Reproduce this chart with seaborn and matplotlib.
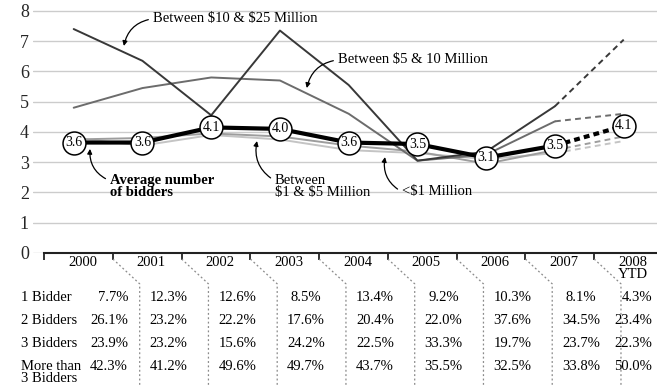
import matplotlib
matplotlib.use("Agg")
import matplotlib.pyplot as plt
import seaborn as sns
import numpy as np

# ---------------- data ----------------
years = ["2000", "2001", "2002", "2003", "2004", "2005", "2006", "2007", "2008\nYTD"]
avg_bidders = [3.65, 3.65, 4.15, 4.1, 3.65, 3.6, 3.15, 3.55, 4.2]
avg_labels = ["3.6", "3.6", "4.1", "4.0", "3.6", "3.5", "3.1", "3.5", "4.1"]
size_10_25 = [7.4, 6.35, 4.55, 7.35, 5.55, 3.05, 3.35, 4.85, 7.05]
size_5_10 = [4.8, 5.45, 5.8, 5.7, 4.6, 3.05, 3.25, 4.35, 4.6]
size_1_5 = [3.75, 3.8, 3.95, 3.85, 3.55, 3.35, 2.95, 3.4, 3.85]
size_lt1 = [3.8, 3.55, 3.9, 3.75, 3.4, 3.3, 3.1, 3.3, 3.7]

row_labels = ["1 Bidder", "2 Bidders", "3 Bidders", "More than\n3 Bidders"]
pct_1 = ["7.7%", "12.3%", "12.6%", "8.5%", "13.4%", "9.2%", "10.3%", "8.1%", "4.3%"]
pct_2 = ["26.1%", "23.2%", "22.2%", "17.6%", "20.4%", "22.0%", "37.6%", "34.5%", "23.4%"]
pct_3 = ["23.9%", "23.2%", "15.6%", "24.2%", "22.5%", "33.3%", "19.7%", "23.7%", "22.3%"]
pct_more = ["42.3%", "41.2%", "49.6%", "49.7%", "43.7%", "35.5%", "32.5%", "33.8%", "50.0%"]
y_ticks = [0, 1, 2, 3, 4, 5, 6, 7, 8]

# ---------------- style ----------------
sns.set_theme(style="white")
plt.rcParams["font.family"] = ["Liberation Serif", "DejaVu Serif"]
plt.rcParams["text.color"] = "black"
plt.rcParams["text.parse_math"] = False

fig = plt.figure(figsize=(6.57, 3.87), dpi=100)
ax = fig.add_axes([0.0502, 0.3463, 0.9498, 0.6537])

x = np.arange(len(years))
n_solid = len(years) - 1  # last point (YTD) is dashed

series = [
    (size_lt1, "#c4c4c4", 1.4),
    (size_1_5, "#9d9d9d", 1.4),
    (size_5_10, "#6c6c6c", 1.4),
    (size_10_25, "#383838", 1.4),
]
for vals, col, lw in series:
    sns.lineplot(x=x[:n_solid], y=vals[:n_solid], ax=ax, color=col, lw=lw, zorder=3)
    sns.lineplot(x=x[n_solid - 1:], y=vals[n_solid - 1:], ax=ax, color=col, lw=lw,
                 linestyle=(0, (3, 2.2)), zorder=3)

sns.lineplot(x=x[:n_solid], y=avg_bidders[:n_solid], ax=ax, color="black", lw=3.0, zorder=4)
sns.lineplot(x=x[n_solid - 1:], y=avg_bidders[n_solid - 1:], ax=ax, color="black", lw=3.0,
             linestyle=(0, (1.4, 1.0)), zorder=4)
sns.scatterplot(x=x, y=avg_bidders, ax=ax, s=16.5 ** 2, color="white", edgecolor="black",
                linewidth=1.1, zorder=5, legend=False)
for xi, yi, lab in zip(x, avg_bidders, avg_labels):
    ax.text(xi, yi, lab, ha="center", va="center", fontsize=10, zorder=6)

# ---------------- axes ----------------
ax.set_xlim(-0.592, 8.484)
ax.set_ylim(0, 8.36)
ax.set_yticks(y_ticks)
ax.set_yticklabels([str(t) for t in y_ticks], fontsize=13)
ax.yaxis.grid(True, color="#cccccc", lw=1.0)
ax.set_axisbelow(True)
ax.tick_params(axis="y", length=0, pad=3)
ax.set_xticks([i - 0.43 for i in x])
ax.set_xticklabels([])
ax.tick_params(axis="x", direction="out", length=5, width=1.3, color="#222222", bottom=True)
for s in ["top", "right", "left"]:
    ax.spines[s].set_visible(False)
ax.spines["bottom"].set_visible(True)
ax.spines["bottom"].set_color("#222222")
ax.spines["bottom"].set_linewidth(1.5)
ax.spines["bottom"].set_bounds(-0.43, 8.484)
ax.set_xlabel("")
ax.set_ylabel("")

for i, lab in enumerate(years):
    ax.text(i + 0.13, -0.1, lab, ha="center", va="top", fontsize=10.5,
            linespacing=0.85, clip_on=False)

# dotted column separators
for i in range(1, len(years)):
    ax.plot([i - 0.43, i - 0.04, i - 0.04], [-0.2, -1.02, -4.5], color="#8a8a8a",
            lw=0.9, linestyle=(0, (1.5, 2)), clip_on=False)

# table
row_y = [-1.455, -2.215, -2.975, -3.74]
rows = [pct_1, pct_2, pct_3, pct_more]
for ry, rlab, vals in zip(row_y, row_labels, rows):
    if "\n" in rlab:
        ax.text(-0.76, ry + 0.2, rlab, ha="left", va="top", fontsize=10.5,
                linespacing=0.88, clip_on=False)
    else:
        ax.text(-0.76, ry, rlab, ha="left", va="center", fontsize=10.5, clip_on=False)
    for i, v in enumerate(vals):
        if i == 0:
            ax.text(0.79, ry, v, ha="right", va="center", fontsize=10.5, clip_on=False)
        elif i == len(vals) - 1:
            ax.text(8.41, ry, v, ha="right", va="center", fontsize=10.5, clip_on=False)
        else:
            ax.text(i + 0.38, ry, v, ha="center", va="center", fontsize=10.5, clip_on=False)

# annotations
arrow = dict(arrowstyle="-|>", color="black", lw=0.9, mutation_scale=7, shrinkA=1, shrinkB=0)
ax.annotate("Between $10 & $25 Million", xy=(0.73, 6.84), xytext=(1.153, 7.74),
            ha="left", va="center", fontsize=10.5,
            arrowprops=dict(arrow, connectionstyle="arc3,rad=0.35", relpos=(0, 0.5)))
ax.annotate("Between $5 & 10 Million", xy=(3.39, 5.45), xytext=(3.844, 6.38),
            ha="left", va="center", fontsize=10.5,
            arrowprops=dict(arrow, connectionstyle="arc3,rad=0.35", relpos=(0, 0.5)))
ax.annotate("Average number\nof bidders", xy=(0.237, 3.44), xytext=(0.528, 2.62),
            ha="left", va="top", fontsize=10.5, fontweight="bold", linespacing=0.95,
            arrowprops=dict(arrow, connectionstyle="arc3,rad=-0.35", relpos=(0, 0.72)))
ax.annotate("Between\n$1 & $5 Million", xy=(2.666, 3.70), xytext=(2.928, 2.62),
            ha="left", va="top", fontsize=10.5, linespacing=0.95,
            arrowprops=dict(arrow, connectionstyle="arc3,rad=-0.35", relpos=(0, 0.72)))
ax.annotate("<$1 Million", xy=(4.528, 3.17), xytext=(4.775, 2.02),
            ha="left", va="center", fontsize=10.5,
            arrowprops=dict(arrow, connectionstyle="arc3,rad=-0.35", relpos=(0, 0.5)))

fig.savefig("out.png", dpi=100)
